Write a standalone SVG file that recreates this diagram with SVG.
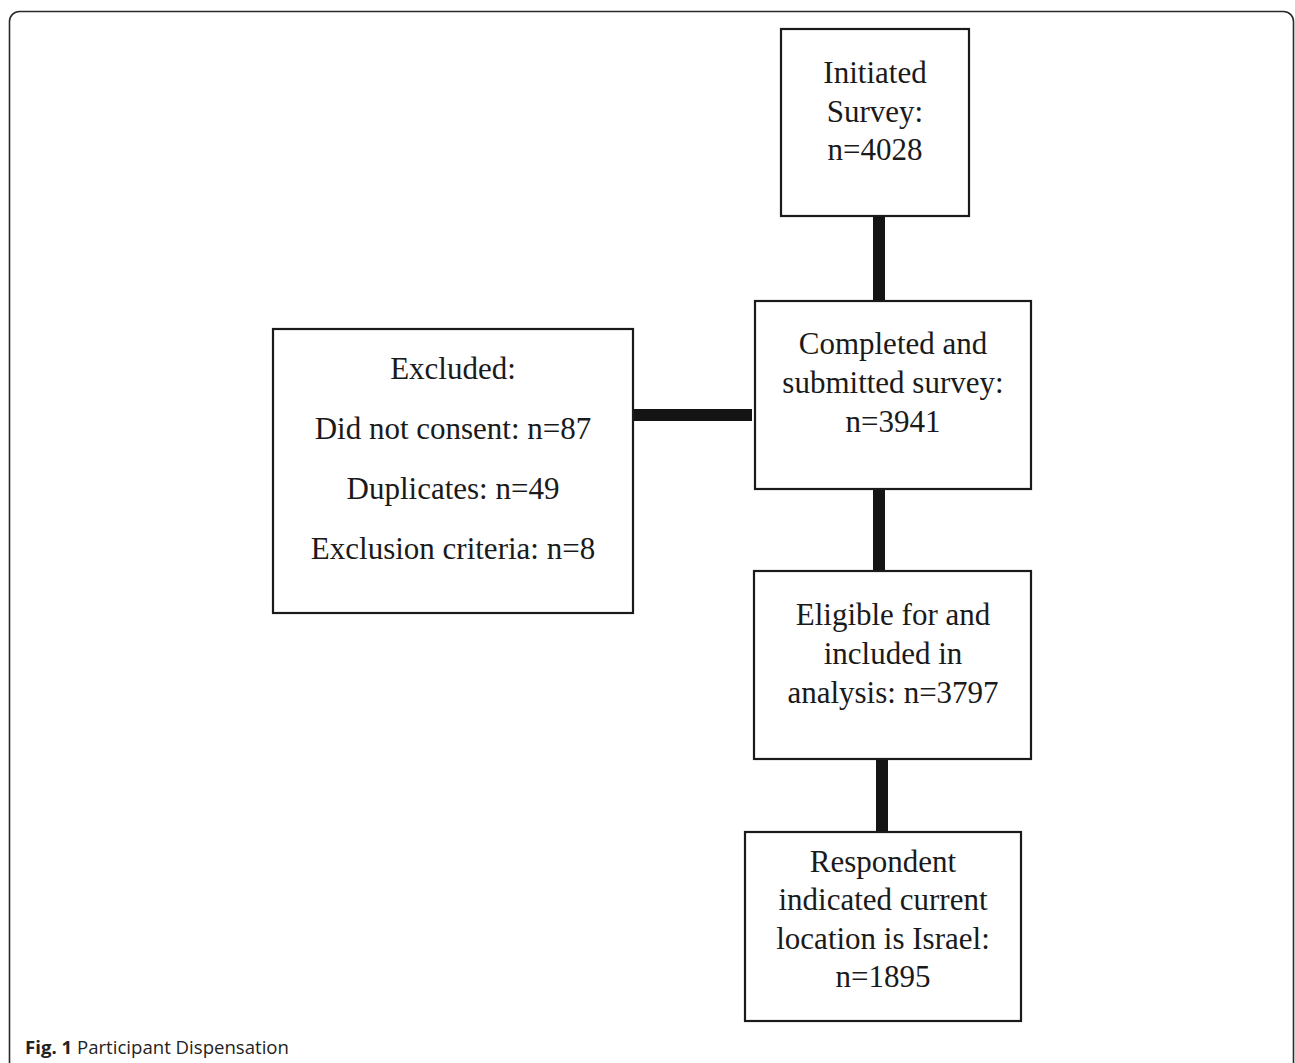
<svg xmlns="http://www.w3.org/2000/svg" width="1295" height="1063" viewBox="0 0 1295 1063">
<style>
.frame{fill:none;stroke:#2a2a2a;stroke-width:1.6}
.box{fill:#fff;stroke:#1a1a1a;stroke-width:2.2}
.t{font-family:"Liberation Serif","Times New Roman",serif;font-size:31px;fill:#1a1a1a;text-anchor:middle}
.conn{stroke:#141414;stroke-width:12;fill:none}
.cap{font-family:"Open Sans",sans-serif;font-size:18.6px;fill:#222}
</style>
<rect class="frame" x="9.5" y="11.5" width="1284" height="1070" rx="10" ry="10"/>
<g id="connectors">
<line class="conn" x1="879" y1="216" x2="879" y2="301"/>
<line class="conn" x1="879" y1="489" x2="879" y2="571"/>
<line class="conn" x1="882" y1="759" x2="882" y2="832"/>
<line class="conn" x1="633" y1="415" x2="752" y2="415"/>
</g>
<g id="initiated">
<rect class="box" x="781" y="29" width="188" height="187"/>
<text class="t" x="875" y="83">Initiated</text>
<text class="t" x="875" y="122">Survey:</text>
<text class="t" x="875" y="160">n=4028</text>
</g>
<g id="completed">
<rect class="box" x="755" y="301" width="276" height="188"/>
<text class="t" x="893" y="354">Completed and</text>
<text class="t" x="893" y="393">submitted survey:</text>
<text class="t" x="893" y="432">n=3941</text>
</g>
<g id="excluded">
<rect class="box" x="273" y="329" width="360" height="284"/>
<text class="t" x="453" y="379">Excluded:</text>
<text class="t" x="453" y="439">Did not consent: n=87</text>
<text class="t" x="453" y="499">Duplicates: n=49</text>
<text class="t" x="453" y="559">Exclusion criteria: n=8</text>
</g>
<g id="eligible">
<rect class="box" x="754" y="571" width="277" height="188"/>
<text class="t" x="893" y="625">Eligible for and</text>
<text class="t" x="893" y="664">included in</text>
<text class="t" x="893" y="703">analysis: n=3797</text>
</g>
<g id="respondent">
<rect class="box" x="745" y="832" width="276" height="189"/>
<text class="t" x="883" y="872">Respondent</text>
<text class="t" x="883" y="910">indicated current</text>
<text class="t" x="883" y="949">location is Israel:</text>
<text class="t" x="883" y="987">n=1895</text>
</g>
<text class="cap" x="25" y="1054"><tspan font-weight="bold">Fig. 1</tspan> Participant Dispensation</text>
</svg>
